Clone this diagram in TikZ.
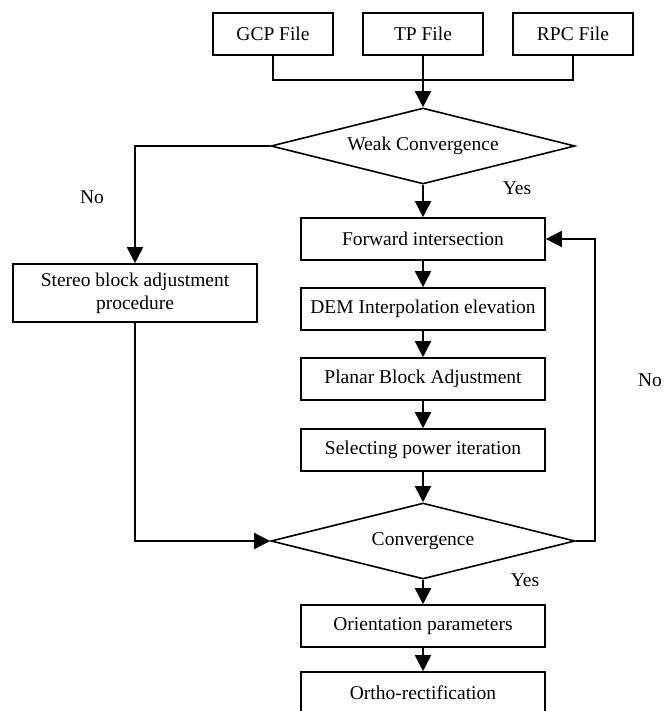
\documentclass[tikz,border=0pt]{standalone}
\usepackage{fontspec}
\setmainfont{Liberation Serif}
\usetikzlibrary{shapes.geometric,arrows.meta}
\begin{document}
\begin{tikzpicture}[x=0.5pt,y=-0.5pt,
        font=\fontsize{9.75}{11.5}\selectfont,
        line width=0.8pt,
        filebox/.style={draw,minimum width=60pt,minimum height=21pt,inner sep=0pt},
        procbox/.style={draw,minimum width=122pt,minimum height=21pt,inner sep=0pt},
        decision/.style={draw,diamond,aspect=4,inner sep=0pt,minimum width=152pt,minimum height=38pt},
        arr/.style={-{Triangle[length=8pt,width=8pt]}}]
        \useasboundingbox (0,0) rectangle (663,711);
        %Input files
        \node[filebox] (gcp) at (273,34) {GCP File};
        \node[filebox] (tp) at (423,34) {TP File};
        \node[filebox] (rpc) at (573,34) {RPC File};
        \coordinate (join) at (423,80);
        \draw (gcp.south) -- (gcp.south |- join) -- (rpc.south |- join) -- (rpc.south);
        \draw (tp.south) -- (join);
        %Weak test
        \node[decision] (weak) at (423,146) {Weak Convergence};
        \draw[arr] (join) -- (weak.north);
        %Stereo branch
        \node[procbox,minimum height=29pt,align=center] (stereo) at (135,293)
        {Stereo block adjustment\\procedure};
        \draw[arr] (weak.west) -| (stereo.north);
        \node (no1) at (92,197) {No};
        %Planar branch
        \node[procbox] (fwd) at (423,239) {Forward intersection};
        \node[procbox] (dem) at (423,309) {DEM Interpolation elevation};
        \node[procbox] (planar) at (423,379) {Planar Block Adjustment};
        \node[procbox] (select) at (423,450) {Selecting power iteration};
        \node (yes1) at (517,188) {Yes};
        \draw[arr] (weak.south) -- (fwd.north);
        \draw[arr] (fwd.south) -- (dem.north);
        \draw[arr] (dem.south) -- (planar.north);
        \draw[arr] (planar.south) -- (select.north);
        %Convergence test
        \node[decision] (conv) at (423,541) {Convergence};
        \draw[arr] (select.south) -- (conv.north);
        \draw[arr] (stereo.south) |- (conv.west);
        \coordinate (loop) at (595,541);
        \draw[arr] (conv.east) -- (loop) |- (fwd.east);
        \node (no2) at (650,380) {No};
        \node (yes2) at (525,580) {Yes};
        %Output
        \node[procbox] (orient) at (423,626) {Orientation parameters};
        \node[procbox] (ortho) at (423,693) {Ortho-rectification};
        \draw[arr] (conv.south) -- (orient.north);
        \draw[arr] (orient.south) -- (ortho.north);
\end{tikzpicture}
\end{document}
